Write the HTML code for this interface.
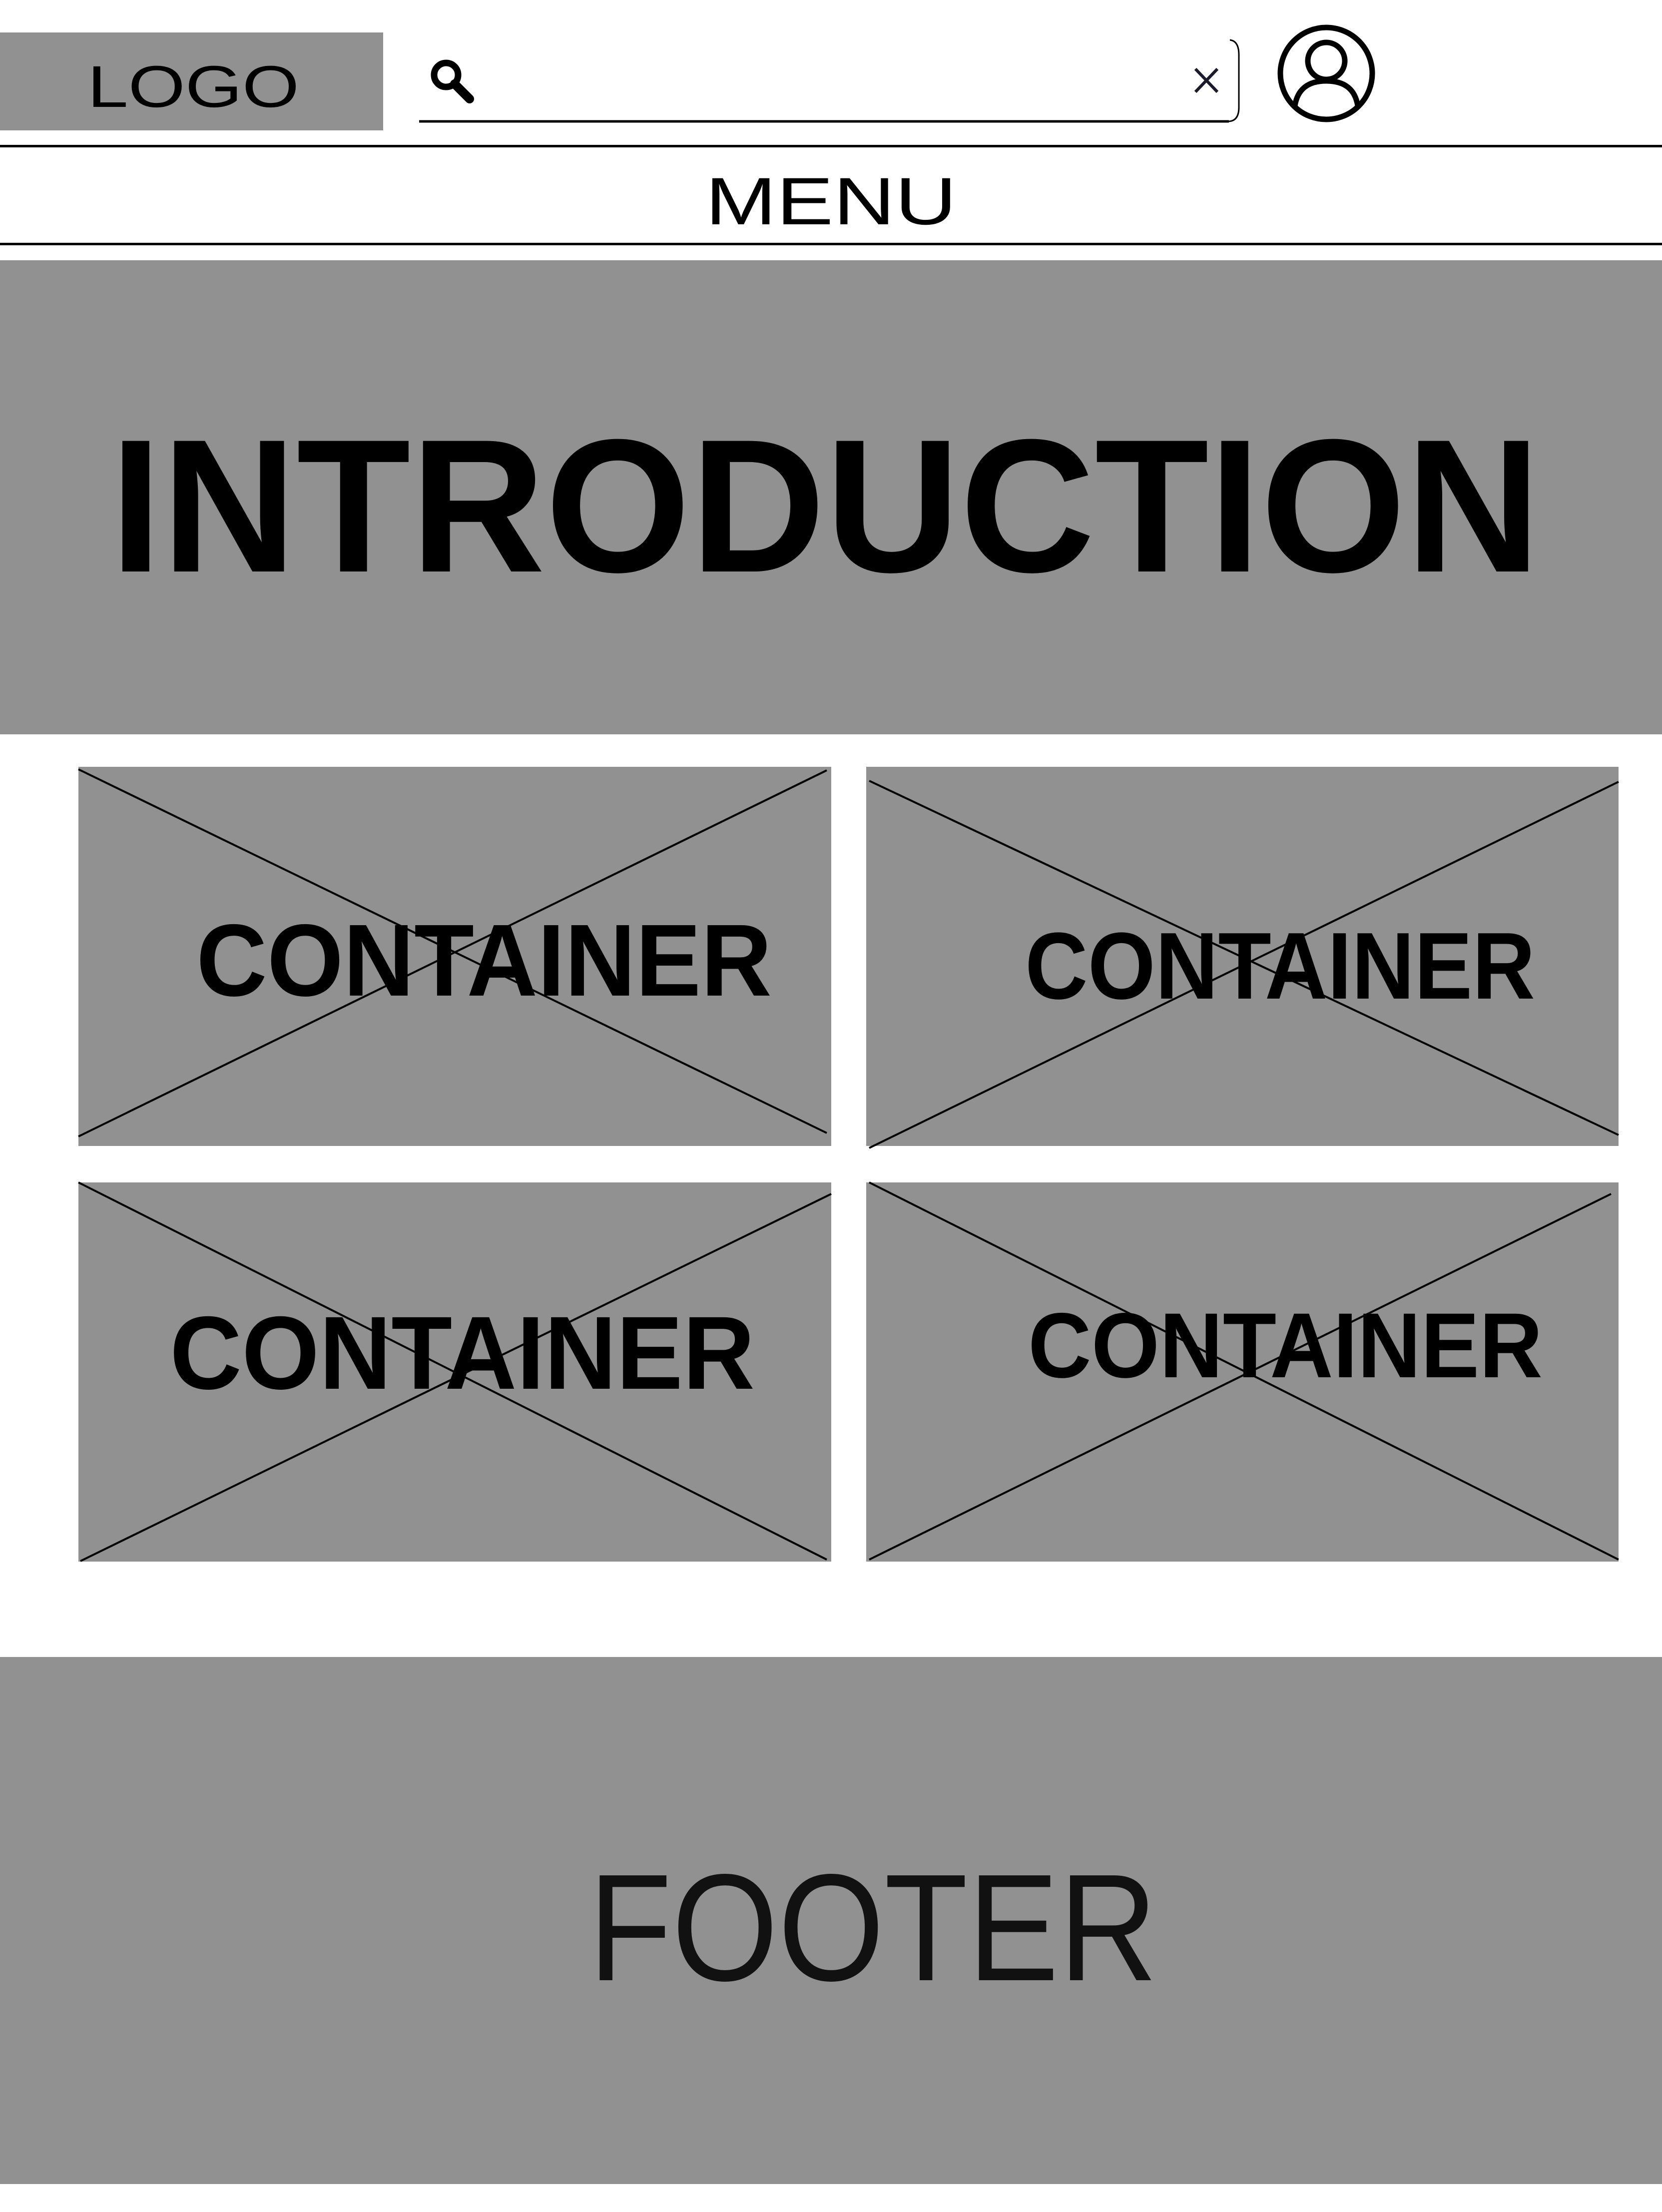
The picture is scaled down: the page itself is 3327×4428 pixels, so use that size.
<!DOCTYPE html>
<html><head><meta charset="utf-8"><title>Wireframe</title>
<style>html,body{margin:0;padding:0;background:#fff}svg{display:block}</style></head>
<body>
<svg xmlns="http://www.w3.org/2000/svg" width="3327" height="4428" viewBox="0 0 3327 4428" font-family="'Liberation Sans', sans-serif">
<rect width="3327" height="4428" fill="#fff"/>
<g>
  <rect x="0" y="65" width="767" height="196" fill="#919191"/>
  <text x="175" y="214" font-size="118" textLength="424" lengthAdjust="spacingAndGlyphs" fill="#000">LOGO</text>
  <g stroke="#000" fill="none">
    <circle cx="893" cy="150" r="24" stroke-width="13"/>
    <line x1="910" y1="168" x2="940" y2="198" stroke-width="18" stroke-linecap="round"/>
  </g>
  <g>
    <line x1="839" y1="243" x2="2460" y2="243" stroke="#000" stroke-width="5"/>
    <path d="M2462 80 Q2480 82 2480 110 L2480 215 Q2480 243 2458 243" fill="none" stroke="#000" stroke-width="3"/>
  </g>
  <g stroke="#1a1a2a" stroke-width="6">
    <line x1="2393" y1="138" x2="2437" y2="184"/>
    <line x1="2437" y1="138" x2="2393" y2="184"/>
  </g>
  <g fill="none" stroke="#000" stroke-width="11">
    <circle cx="2655" cy="147" r="92"/>
    <circle cx="2655" cy="122" r="37"/>
    <path d="M2592 212 Q2600 162 2655 162 Q2710 162 2718 212"/>
  </g>
</g>
<rect x="0" y="290" width="3327" height="5" fill="#000"/>
<text x="1412" y="449" font-size="134" textLength="503" lengthAdjust="spacingAndGlyphs" fill="#000">MENU</text>
<rect x="0" y="486" width="3327" height="5" fill="#000"/>

<g>
  <rect x="0" y="521" width="3327" height="949" fill="#919191"/>
  <text x="220" y="1144" font-size="380" font-weight="bold" textLength="2864" lengthAdjust="spacingAndGlyphs" fill="#000">INTRODUCTION</text>
</g>

<g>
  <rect x="157" y="1535" width="1507" height="759" fill="#919191"/>
  <line x1="157" y1="1540" x2="1655" y2="2268" stroke="#000" stroke-width="4"/>
  <line x1="157" y1="2275" x2="1655" y2="1542" stroke="#000" stroke-width="4"/>
  <text x="393" y="1993" font-size="205" font-weight="bold" textLength="1152" lengthAdjust="spacingAndGlyphs" fill="#000">CONTAINER</text>
</g>
<g>
  <rect x="1734" y="1535" width="1506" height="759" fill="#919191"/>
  <line x1="1740" y1="1563" x2="3240" y2="2272" stroke="#000" stroke-width="4"/>
  <line x1="1740" y1="2298" x2="3240" y2="1565" stroke="#000" stroke-width="4"/>
  <text x="2052" y="1999" font-size="190" font-weight="bold" textLength="1021" lengthAdjust="spacingAndGlyphs" fill="#000">CONTAINER</text>
</g>
<g>
  <rect x="157" y="2367" width="1507" height="759" fill="#919191"/>
  <line x1="157" y1="2367" x2="1655" y2="3122" stroke="#000" stroke-width="4"/>
  <line x1="161" y1="3125" x2="1664" y2="2390" stroke="#000" stroke-width="4"/>
  <text x="340" y="2780" font-size="208" font-weight="bold" textLength="1171" lengthAdjust="spacingAndGlyphs" fill="#000">CONTAINER</text>
</g>
<g>
  <rect x="1734" y="2367" width="1506" height="759" fill="#919191"/>
  <line x1="1740" y1="2367" x2="3240" y2="3122" stroke="#000" stroke-width="4"/>
  <line x1="1740" y1="3122" x2="3225" y2="2390" stroke="#000" stroke-width="4"/>
  <text x="2058" y="2757" font-size="185" font-weight="bold" textLength="1030" lengthAdjust="spacingAndGlyphs" fill="#000">CONTAINER</text>
</g>

<g>
  <rect x="0" y="3317" width="3327" height="1055" fill="#919191"/>
  <text x="1178" y="3964" font-size="305" textLength="1139" lengthAdjust="spacingAndGlyphs" fill="#111">FOOTER</text>
</g>
</svg>
</body></html>
